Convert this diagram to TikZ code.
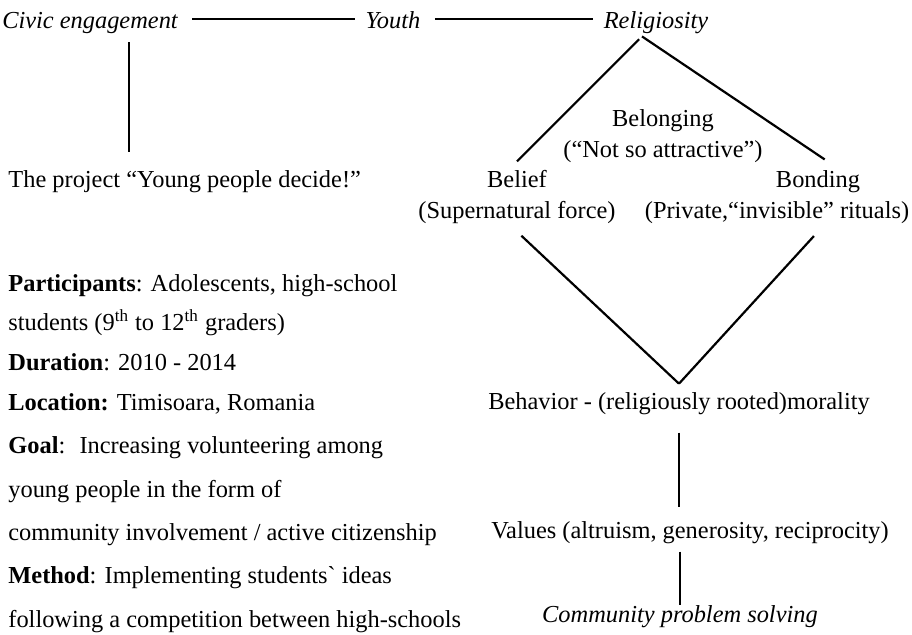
\documentclass[tikz,border=0pt]{standalone}
\usepackage{fontspec}
\setmainfont{Liberation Serif}
\newcommand{\bodyfont}{\fontsize{12.2pt}{15.5pt}\selectfont}
\tikzset{
  every node/.style={font=\bodyfont, inner xsep=5pt, inner ysep=4pt},
  topic/.style={font=\bodyfont\itshape, text height=9pt, text depth=0pt, anchor=base},
  info/.style={anchor=base west, inner xsep=0pt},
}
\begin{document}
\begin{tikzpicture}[x=0.5pt,y=-0.5pt]
  \useasboundingbox (0,0) rectangle (912,634);
  \draw
    (90,28) node[topic] (civic){Civic engagement}
    (393,28) node[topic] (youth){Youth}
    (656,28) node[topic] (relig){Religiosity}
    (8,187) node[info] (project){The project “Young people decide!”}
    (663,157) node[anchor=base, align=center] (belonging){Belonging\\(“Not so attractive”)}
    (517,218) node[anchor=base, align=center] (belief){Belief\\(Supernatural force)}
    (818,187) node[anchor=base] (bonding){Bonding}
    (777,218) node[anchor=base] (private){(Private,“invisible” rituals)}
    (679,409) node[anchor=base] (behavior){Behavior - (religiously rooted)morality}
    (690,538) node[anchor=base] (values){Values (altruism, generosity, reciprocity)}
    (680,622) node[anchor=base, font=\bodyfont\itshape] (solving){Community problem solving};
  \foreach \y/\txt [count=\i] in {
      291/{\textbf{Participants}: Adolescents, high-school},
      330/{students (9\textsuperscript{th} to 12\textsuperscript{th} graders)},
      370/{\textbf{Duration}: 2010 - 2014},
      410/{\textbf{Location:} Timisoara, Romania},
      453/{\textbf{Goal}:~ Increasing volunteering among},
      497/{young people in the form of},
      540/{community involvement / active citizenship},
      583/{\textbf{Method}: Implementing students\textasciigrave{} ideas},
      627/{following a competition between high-schools}}
    \node[info] (info\i) at (8,\y) {\txt};
  \coordinate (stem) at (129,0);
  \begin{scope}[-, line width=1.1pt]
    \draw[shorten <=2pt] (civic) to (youth);
    \draw[shorten <=2pt] (youth) to (relig);
    \draw[shorten <=3pt, shorten >=5pt] (civic.south -| stem) to (project.north -| stem);
    \draw[shorten <=2pt] ([xshift=-7pt]relig.south) to (belief.north);
    \draw[shorten <=2pt] ([xshift=5pt]bonding.north) to ([xshift=-7pt]relig.south);
    \draw[shorten <=3pt] (belief.south) to (behavior.north);
    \draw[shorten <=3pt] (bonding.south |- private.south) to (behavior.north);
    \draw[shorten <=5pt, shorten >=3pt] (behavior.south) to (behavior.south |- values.north);
    \draw[shorten >=-4pt] (values.south -| solving.north) to (solving.north);
  \end{scope}
\end{tikzpicture}
\end{document}
